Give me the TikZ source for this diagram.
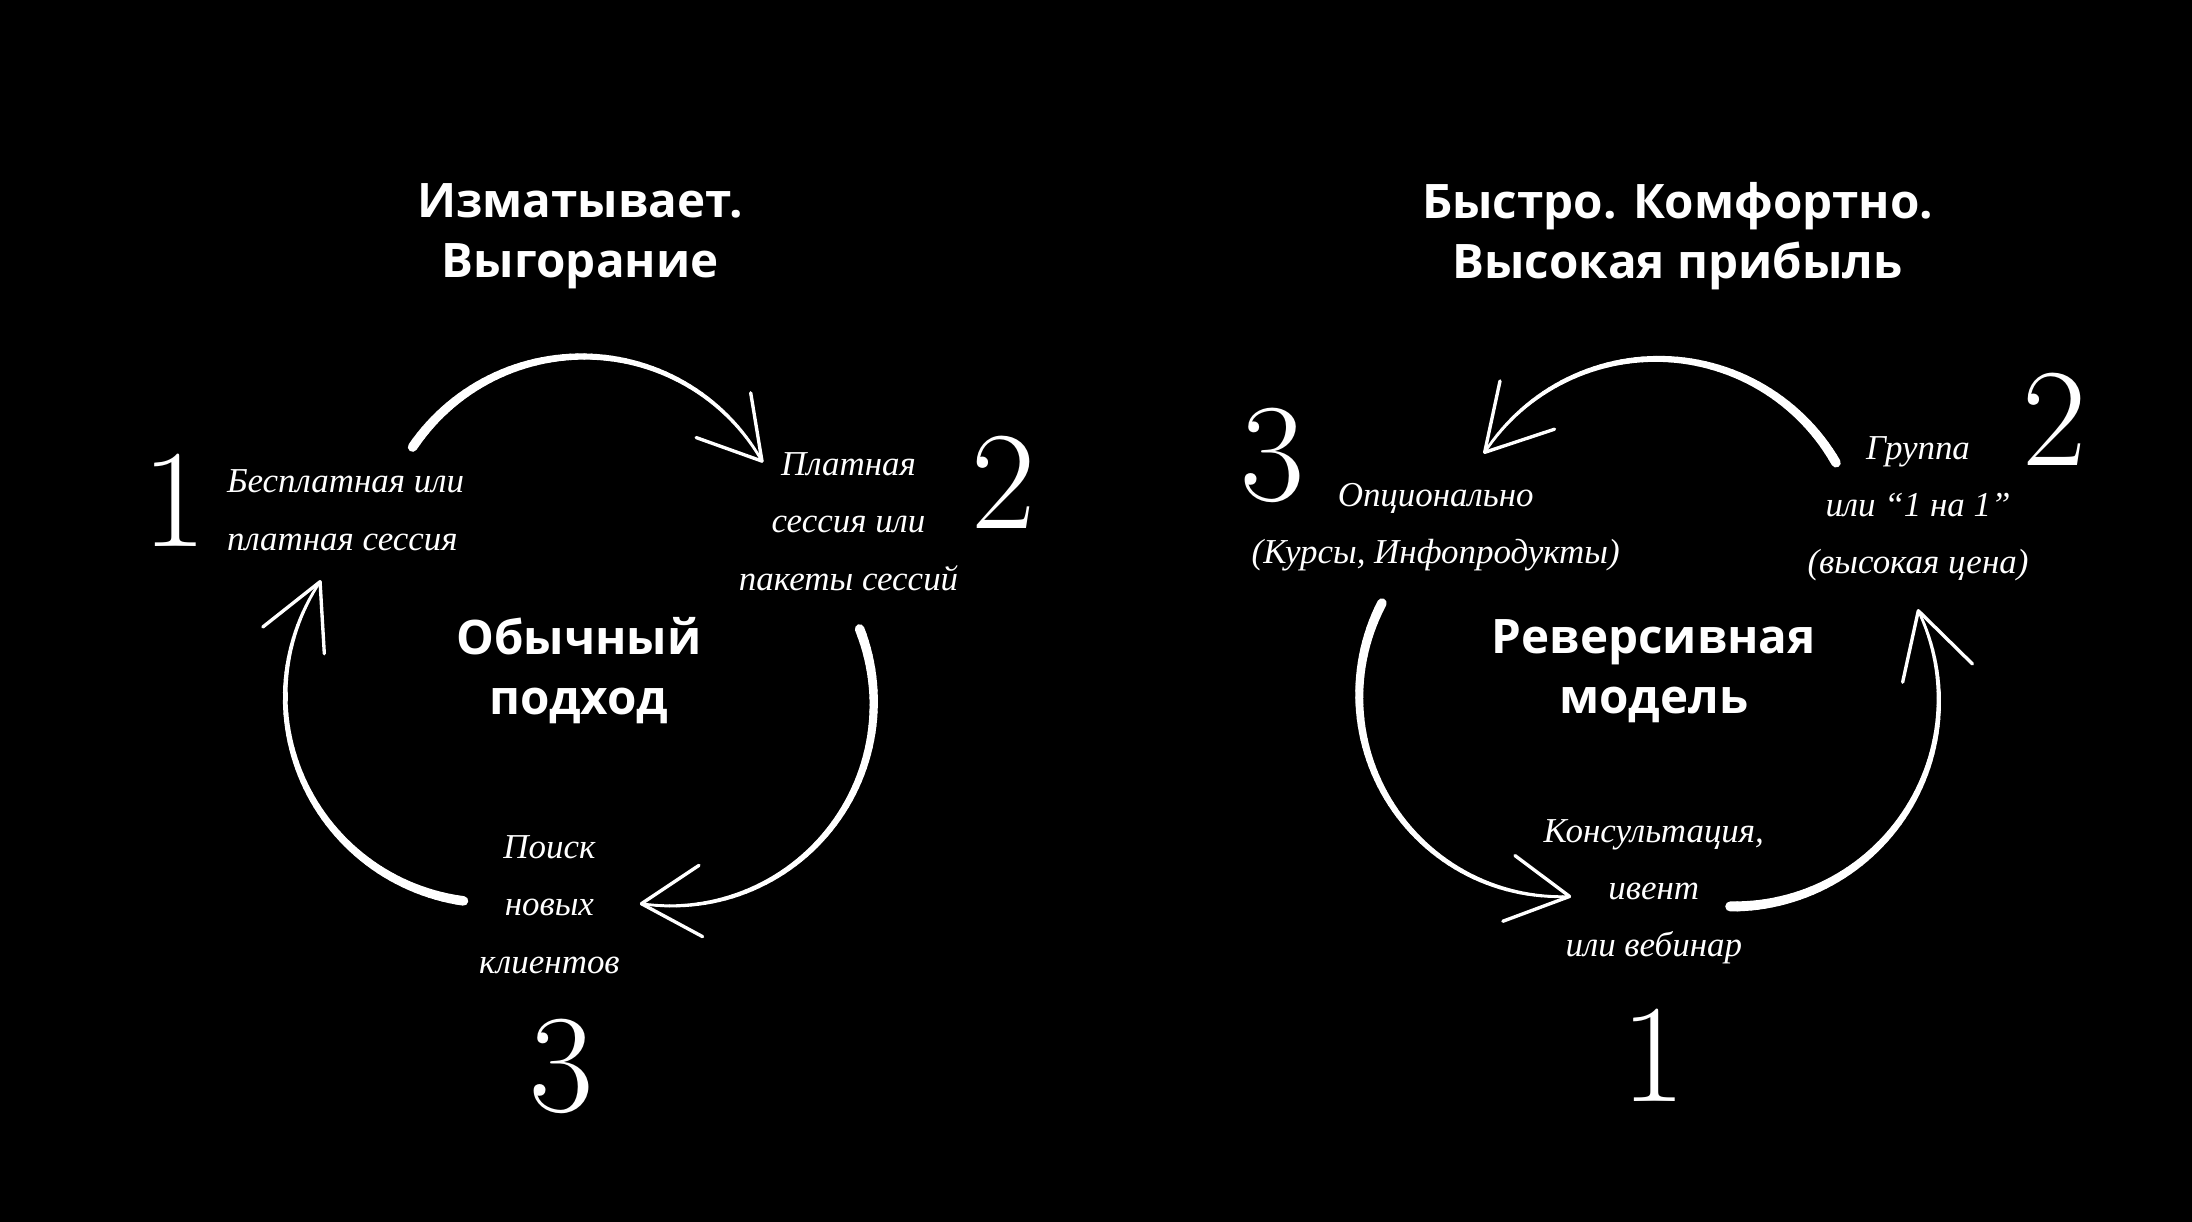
\documentclass[tikz,border=0pt]{standalone}
\usepackage{fontspec}
\newfontfamily\titlefont{Open Sans}
\newfontfamily\handfont{Liberation Serif}
\newcommand\taperarc[8]{% name cx cy r a0 a1 w0 w1
  \foreach \i in {0,...,59}{
    \pgfmathsetmacro\aa{#5+(#6-#5)*\i/60}
    \pgfmathsetmacro\ab{#5+(#6-#5)*(\i+1)/60}
    \pgfmathsetmacro\ww{#7+(#8-#7)*\i/60}
    \draw[white, line width=\ww pt, line cap=round]
      ({#2+#4*cos(\aa)},{#3-#4*sin(\aa)}) -- ({#2+#4*cos(\ab)},{#3-#4*sin(\ab)});
  }
  \coordinate (#1) at ({#2+#4*cos(#6)},{#3-#4*sin(#6)});
}
\begin{document}
\begin{tikzpicture}[x=0.5pt,y=-0.5pt,
  title/.style={text=white, inner sep=0pt, align=center,
    font=\titlefont\bfseries\fontsize{17}{21.5}\selectfont},
  hand/.style={text=white, inner sep=0pt, align=center,
    font=\handfont\itshape\fontsize{12.5}{20.5}\selectfont},
  big/.style={text=white, inner sep=0pt, font=\fontsize{50}{50}\selectfont},
  barb/.style={white, line width=1.2pt, line cap=round}]
\fill[black] (0,0) rectangle (1568,874);
\useasboundingbox (0,0) rectangle (1568,874);

% ---------- left diagram ----------
\node[title] (tl) at (415,169) {Изматывает.\\Выгорание};
\node[title] (cl) at (414,480) {Обычный\\подход};
\node[big] (n1l) at (125,358) {1};
\node[hand, align=left, anchor=west] (s1l) at (162,365) {Бесплатная или\\платная сессия};
\node[big] (n2l) at (718,345) {2};
\node[hand] (s2l) at (607,373) {Платная\\сессия или\\пакеты сессий};
\node[big] (n3l) at (402,763) {3};
\node[hand] (s3l) at (393,647) {Поиск\\новых\\клиентов};

\taperarc{tipA}{417}{402}{147}{146}{29.4}{3.4}{0.9}
\draw[barb] (tipA) -- (537,281);
\draw[barb] (tipA) -- (498,313);
\taperarc{tipB}{480}{503}{145}{21.5}{-98.4}{3.4}{0.9}
\draw[barb] (tipB) -- (500,619);
\draw[barb] (tipB) -- (502.6,670);
\taperarc{tipC}{351.6}{498.2}{147.6}{262.2}{146.2}{3.4}{0.9}
\draw[barb] (tipC) -- (188,448.5);
\draw[barb] (tipC) -- (232,467.6);

% ---------- right diagram ----------
\node[title] (tr) at (1200,169) {Быстро. Комфортно.\\Высокая прибыль};
\node[title] (cr) at (1183,480) {Реверсивная\\модель};
\node[big] (n3r) at (910,326) {3};
\node[hand] (s3r) at (1027,377) {Опционально\\(Курсы, Инфопродукты)};
\node[big] (n2r) at (1470,300) {2};
\node[hand] (s2r) at (1372,364) {Группа\\или “1 на 1”\\(высокая цена)};
\node[big] (n1r) at (1183,755) {1};
\node[hand] (s1r) at (1183,638) {Консультация,\\ивент\\или вебинар};

\taperarc{tipD}{1185.4}{404}{147.3}{29.7}{146.9}{3.4}{0.9}
\draw[barb] (tipD) -- (1073,272.5);
\draw[barb] (tipD) -- (1112,307);
\taperarc{tipE}{1116}{497.7}{143.7}{152.5}{272.7}{3.4}{0.9}
\draw[barb] (tipE) -- (1083.7,612);
\draw[barb] (tipE) -- (1075,659);
\taperarc{tipF}{1239.5}{501}{147.4}{-90.7}{25.8}{3.6}{0.9}
\draw[barb] (tipF) -- (1361,488);
\draw[barb] (tipF) -- (1411,475);
\end{tikzpicture}
\end{document}
